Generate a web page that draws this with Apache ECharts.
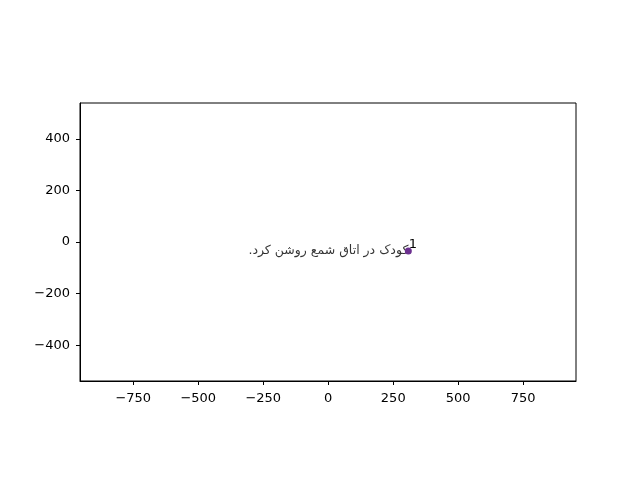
<!DOCTYPE html>
<html>
<head>
<meta charset="utf-8">
<script src="https://cdn.jsdelivr.net/npm/echarts@6/dist/echarts.min.js"></script>
<style>
  html, body { margin: 0; padding: 0; background: #fff; }
  #chart { width: 640px; height: 480px; }
</style>
</head>
<body>
<div id="chart"></div>
<script>
// data
const pointX = [308];
const pointY = [-35];
const pointIds = ['1'];
const pointTexts = ['کودک در اتاق شمع روشن کرد.'];
const xTicks = [-750, -500, -250, 0, 250, 500, 750];
const yTicks = [-400, -200, 0, 200, 400];
const xRange = [-955, 953];
const yRange = [-539, 539];

const chart = echarts.init(document.getElementById('chart'));
const font = 'DejaVu Sans';
const pts = pointX.map((x, i) => [x, pointY[i]]);

const axisCommon = {
  type: 'value',
  splitLine: { show: false },
  axisLine: { show: true, onZero: false, lineStyle: { color: '#000', width: 1 } },
  axisTick: { show: true, length: 4, lineStyle: { color: '#000' } },
  axisLabel: { color: '#000', fontSize: 13, fontFamily: font,
    formatter: v => (v < 0 ? '\u2212' + Math.abs(v) : '' + v) }
};

chart.setOption({
  animation: false,
  backgroundColor: '#fff',
  grid: { left: 80, right: 64, top: 103, bottom: 99,
    show: true, borderColor: '#000', borderWidth: 1 },
  xAxis: Object.assign({}, axisCommon, {
    min: xRange[0], max: xRange[1],
    axisTick: Object.assign({}, axisCommon.axisTick, { customValues: xTicks }),
    axisLabel: Object.assign({}, axisCommon.axisLabel, { customValues: xTicks, margin: 11 })
  }),
  yAxis: Object.assign({}, axisCommon, {
    min: yRange[0], max: yRange[1],
    axisTick: Object.assign({}, axisCommon.axisTick, { customValues: yTicks }),
    axisLabel: Object.assign({}, axisCommon.axisLabel, { customValues: yTicks, margin: 10 })
  }),
  series: [
    {
      type: 'scatter',
      data: pts,
      symbolSize: 7,
      itemStyle: { color: '#6c3090', opacity: 1 },
      label: {
        show: true,
        position: [4, -9],
        formatter: p => pointIds[p.dataIndex],
        color: '#000', fontSize: 13, fontFamily: font
      },
      z: 3
    },
    {
      type: 'scatter',
      data: pts,
      symbolSize: 0,
      silent: true,
      label: {
        show: true,
        position: 'left',
        distance: 0,
        // RLM keeps the final full stop on the left, as in right-to-left text
        formatter: p => '\u200F' + pointTexts[p.dataIndex] + '\u200F',
        color: '#000', fontSize: 12.5, fontFamily: font
      },
      z: 2
    }
  ]
});
</script>
</body>
</html>
